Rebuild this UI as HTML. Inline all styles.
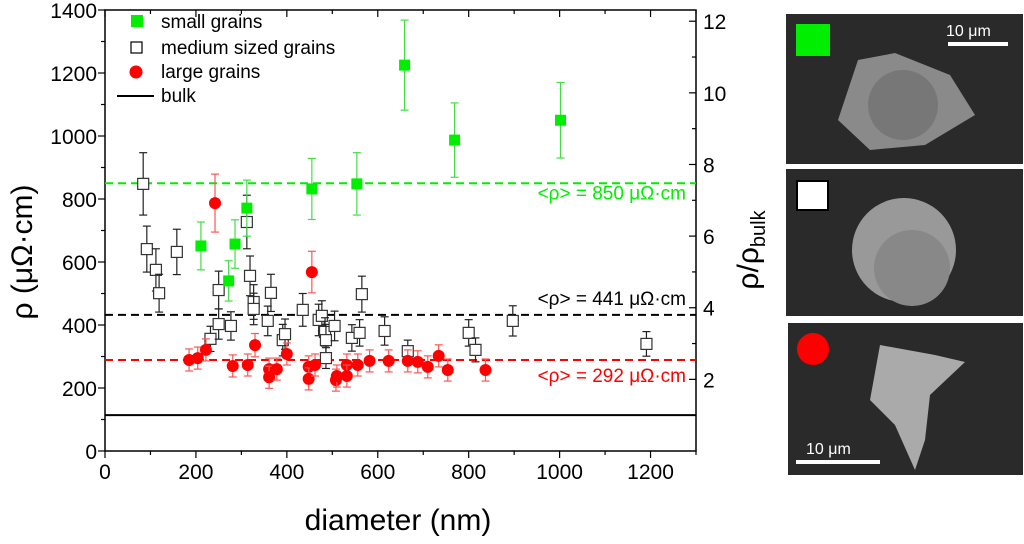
<!DOCTYPE html>
<html><head><meta charset="utf-8"><style>
body{margin:0;background:#fff;width:1024px;height:539px;overflow:hidden;font-family:"Liberation Sans",sans-serif}
svg text{font-family:"Liberation Sans",sans-serif}
</style></head><body>
<svg id="chart" width="1024" height="539" xmlns="http://www.w3.org/2000/svg">
<g id="axes"></g><g id="marks"></g>
</svg>
<script>
const xTicks=[0,200,400,600,800,1000,1200];
const yTicks=[0,200,400,600,800,1000,1200,1400];
const rTicks=[2,4,6,8,10,12];
const rhoBulk=113.7;
const smallX=[211,272,286,312,455,554,659,769,1002];
const smallY=[651,540,657,771,832,848,1225,987,1050];
const smallE=[76,64,77,89,97,99,143,118,120];
const medX=[84,92,112,119,158,232,250,250,277,312,319,327,327,358,365,391,396,435,470,477,484,486,486,505,543,560,565,615,666,800,815,897,1191];
const medY=[848,641,575,501,632,356,511,403,397,727,556,473,451,413,502,352,371,448,416,429,378,352,295,397,359,375,498,381,317,375,321,413,340];
const medE=[99,73,67,60,72,40,60,48,45,85,63,55,50,47,59,50,48,52,50,48,45,50,33,47,42,42,57,45,35,42,38,48,39];
const largeX=[185,204,222,242,281,314,330,361,361,378,400,448,448,455,462,508,510,532,532,556,582,624,666,688,710,734,754,837];
const largeY=[289,295,321,787,270,273,336,260,234,260,308,267,229,568,273,225,238,273,238,273,286,286,286,283,267,302,257,257];
const largeE=[35,35,35,92,35,35,37,35,35,35,35,35,35,66,35,35,35,35,35,35,35,35,35,35,35,35,35,35];
const avgVals=[850,432,289];
const avgLabels=["<ρ> = 850 μΩ·cm","<ρ> = 441 μΩ·cm","<ρ> = 292 μΩ·cm"];
const avgColors=["#00ee00","#000","#ff0000"];

const L=105,R=696,T=10,B=451;
const X=v=>L+v*(R-L)/1300;
const Y=v=>B-v*0.315;
const YR=v=>Y(v*rhoBulk);
const NS="http://www.w3.org/2000/svg";
function mk(p,tag,a,txt){const e=document.createElementNS(NS,tag);for(const k in a)e.setAttribute(k,a[k]);if(txt!==undefined)e.textContent=txt;p.appendChild(e);return e;}
const ax=document.getElementById('axes'),mg=document.getElementById('marks');

let fr=mk(ax,'rect',{x:L,y:T,width:R-L,height:B-T,fill:'none',stroke:'#000','stroke-width':1.5});


for(let v=0;v<=1300;v+=100){const maj=v%200==0;const l=maj?7:4;
 mk(ax,'line',{x1:X(v),x2:X(v),y1:B,y2:B+l,stroke:'#000','stroke-width':1.2});
 mk(ax,'line',{x1:X(v),x2:X(v),y1:T,y2:T+l,stroke:'#000','stroke-width':1.2});}
xTicks.forEach(v=>{const t=mk(ax,'text',{x:X(v),y:479,'font-size':21,'text-anchor':'middle'},v);
 
 });
for(let v=0;v<=1400;v+=100){const l=v%200==0?7:4;mk(ax,'line',{x1:L-l,x2:L,y1:Y(v),y2:Y(v),stroke:'#000','stroke-width':1.2});}
yTicks.forEach(v=>{const t=mk(ax,'text',{x:L-8,y:Y(v)+8,'font-size':21,'text-anchor':'end'},v);
 
 });
for(let v=1;v<=12;v++){const l=v%2==0?7:4;mk(ax,'line',{x1:R-l,x2:R,y1:YR(v),y2:YR(v),stroke:'#000','stroke-width':1.2});}
rTicks.forEach(v=>{const t=mk(ax,'text',{x:703,y:YR(v)+8,'font-size':21},v);
 
 });
let xt=mk(ax,'text',{x:398,y:530,'font-size':30,'text-anchor':'middle'},'diameter (nm)');


let yt=mk(ax,'text',{x:0,y:0,'font-size':30,'text-anchor':'middle',transform:'translate(32,252) rotate(-90)'},'ρ (μΩ·cm)');


let rt=mk(ax,'text',{x:0,y:0,'font-size':30,'text-anchor':'middle',transform:'translate(758,250) rotate(-90)'});
rt.innerHTML='ρ/ρ<tspan font-size="20" dy="7">bulk</tspan>';



let bl=mk(mg,'line',{x1:L,x2:R,y1:Y(rhoBulk),y2:Y(rhoBulk),stroke:'#000','stroke-width':2});


avgVals.forEach((v,i)=>{
 const l=mk(mg,'line',{x1:L,x2:R,y1:Y(v),y2:Y(v),stroke:avgColors[i],'stroke-width':2,'stroke-dasharray':'8,5'});
 
 
 const dy=i==2?22:(i==1?-10:16);
 const t=mk(mg,'text',{x:686,y:Y(v)+dy,'font-size':19,'text-anchor':'end',fill:avgColors[i]},avgLabels[i]);
 
 
});
function ebar(x,y,e,c){const g=mk(mg,'g',{stroke:c,'stroke-width':1.2});
 mk(g,'line',{x1:X(x),x2:X(x),y1:Y(y+e),y2:Y(y-e)});
 mk(g,'line',{x1:X(x)-4,x2:X(x)+4,y1:Y(y+e),y2:Y(y+e)});
 mk(g,'line',{x1:X(x)-4,x2:X(x)+4,y1:Y(y-e),y2:Y(y-e)});}
medX.forEach((x,i)=>{ebar(x,medY[i],medE[i],'#222');
 const r=mk(mg,'rect',{x:X(x)-5.5,y:Y(medY[i])-5.5,width:11,height:11,fill:'#fff',stroke:'#333','stroke-width':1.2});
 
 });
largeX.forEach((x,i)=>{ebar(x,largeY[i],largeE[i],'#f55');
 const c=mk(mg,'circle',{cx:X(x),cy:Y(largeY[i]),r:6,fill:'#f00'});
 
 });
smallX.forEach((x,i)=>{ebar(x,smallY[i],smallE[i],'#4d4');
 const r=mk(mg,'rect',{x:X(x)-5.5,y:Y(smallY[i])-5.5,width:11,height:11,fill:'#00ee00'});
 
 });
</script>
<svg style="position:absolute;left:0;top:0" width="1024" height="539" xmlns="http://www.w3.org/2000/svg">
<g font-size="19">
<rect x="131" y="15" width="12" height="12" fill="#00ee00"/><text x="161" y="28">small grains</text>
<rect x="131" y="42" width="11" height="11" fill="#fff" stroke="#000" stroke-width="1.2"/><text x="161" y="54">medium sized grains</text>
<circle cx="136" cy="72" r="6.5" fill="#f00"/><text x="161" y="78">large grains</text>
<line x1="117" x2="154" y1="96" y2="96" stroke="#000" stroke-width="2"/><text x="161" y="102">bulk</text>
</g>
<g>
<rect x="786" y="14" width="237" height="150" fill="#2a2a2a"/>
<rect x="796" y="24" width="34" height="32" fill="#00ee00"/>
<text x="946" y="36" fill="#fff" font-size="16">10 μm</text>
<rect x="948" y="42" width="60" height="4" fill="#fff"/>
<polygon points="838,120 858,60 895,53 950,75 975,115 925,145 870,150" fill="#8a8a8a"/>
<circle cx="903" cy="105" r="35" fill="#777"/>
</g>
<g>
<rect x="786" y="169" width="237" height="147" fill="#2a2a2a"/>
<rect x="797" y="181" width="31" height="29" fill="#fff" stroke="#000" stroke-width="2"/>
<circle cx="904" cy="250" r="52" fill="#999"/>
<circle cx="912" cy="268" r="38" fill="#888"/>
</g>
<g>
<rect x="788" y="323" width="235" height="152" fill="#2a2a2a"/>
<circle cx="813" cy="349" r="16" fill="#f00"/>
<polygon points="880,345 935,355 965,362 930,395 925,440 915,470 895,425 870,400" fill="#aaa"/>
<text x="806" y="454" fill="#fff" font-size="16">10 μm</text>
<rect x="796" y="460" width="84" height="4" fill="#fff"/>
</g>
</svg>
</body></html>
